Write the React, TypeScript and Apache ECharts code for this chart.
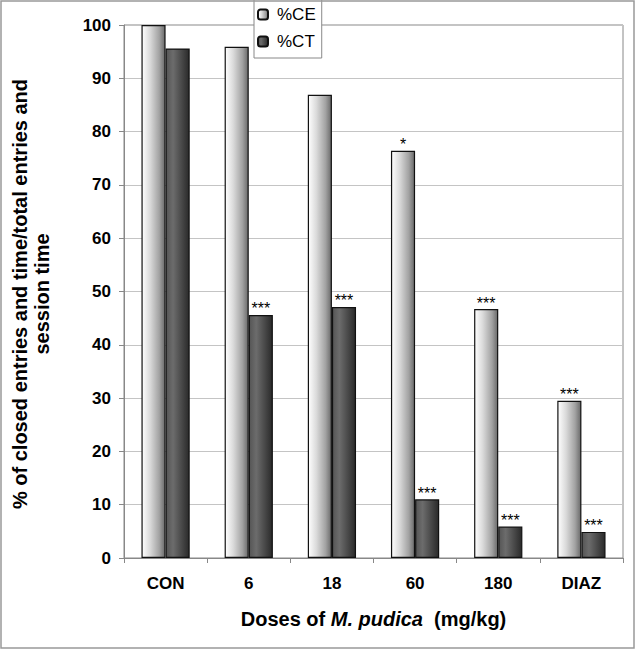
import React, { useEffect, useRef } from "react";
import * as echarts from "echarts";

const categories = ["CON", "6", "18", "60", "180", "DIAZ"];
const ceValues = [100, 95.9, 86.9, 76.4, 46.7, 29.5];
const ctValues = [95.6, 45.6, 47.1, 11.0, 5.9, 4.9];
const ceSig = ["", "", "", "*", "***", "***"];
const ctSig = ["", "***", "***", "***", "***", "***"];
const yTicks = { min: 0, max: 100, interval: 10 };

const FONT = "'Liberation Sans', Arial, sans-serif";

export default function App() {
  const ref = useRef<HTMLDivElement>(null);
  useEffect(() => {
    if (!ref.current) return;
    const chart = echarts.init(ref.current, null, { renderer: "svg" });
    const ceGrad = new echarts.graphic.LinearGradient(0, 0, 1, 0, [
      { offset: 0, color: "#ffffff" },
      { offset: 0.35, color: "#dadada" },
      { offset: 0.75, color: "#a2a2a2" },
      { offset: 1, color: "#6a6a6a" },
    ]);
    const ctGrad = new echarts.graphic.LinearGradient(0, 0, 1, 0, [
      { offset: 0, color: "#555555" },
      { offset: 0.3, color: "#6c6c6c" },
      { offset: 1, color: "#2a2a2a" },
    ]);
    const labelFor = (sig: string[]) => ({
      show: true,
      position: "top",
      distance: -2,
      formatter: (p: any) => sig[p.dataIndex],
      color: "#000",
      fontSize: 16,
      fontFamily: FONT,
    });
    chart.setOption({
      animation: false,
      backgroundColor: "#ffffff",
      textStyle: { fontFamily: FONT },
      grid: {
        left: 124,
        right: 13,
        top: 25,
        bottom: 92,
        show: true,
        borderColor: "#888888",
        borderWidth: 1,
      },
      legend: {
        orient: "vertical",
        left: 254,
        top: -4,
        itemWidth: 10,
        itemHeight: 10,
        itemGap: 10,
        padding: [10, 6, 8, 3],
        backgroundColor: "#ffffff",
        borderColor: "#888888",
        borderWidth: 1,
        z: 10,
        textStyle: { fontSize: 17, color: "#000", fontFamily: FONT, padding: [0, 0, 0, 4] },
        data: ["%CE", "%CT"],
      },
      graphic: [
        {
          type: "rect",
          shape: { x: 1, y: 1, width: 633, height: 647 },
          style: { fill: "none", stroke: "#999999", lineWidth: 1.5 },
          silent: true,
          z: 100,
        },
        {
          type: "text",
          x: 31,
          y: 294,
          rotation: Math.PI / 2,
          style: {
            text: "% of closed entries and time/total entries and\nsession time",
            align: "center",
            verticalAlign: "middle",
            font: `bold 20px ${FONT}`,
            lineHeight: 22,
            fill: "#000",
          },
        },
      ],
      xAxis: {
        type: "category",
        data: categories,
        axisLine: { lineStyle: { color: "#888888" } },
        axisTick: { show: true, length: 5, lineStyle: { color: "#888888" } },
        axisLabel: {
          color: "#000",
          fontSize: 17,
          fontWeight: "bold",
          fontFamily: FONT,
          margin: 17,
        },
        name: "{b|Doses of }{i|M. pudica}{b|  (mg/kg)}",
        nameLocation: "middle",
        nameGap: 51,
        nameTextStyle: {
          rich: {
            b: { fontSize: 20, fontWeight: "bold", color: "#000", fontFamily: FONT },
            i: { fontSize: 20, fontWeight: "bold", fontStyle: "italic", color: "#000", fontFamily: FONT },
          },
        },
      },
      yAxis: {
        type: "value",
        min: yTicks.min,
        max: yTicks.max,
        interval: yTicks.interval,
        axisLine: { show: true, lineStyle: { color: "#888888" } },
        axisTick: { show: true, length: 5, lineStyle: { color: "#888888" } },
        splitLine: { lineStyle: { color: "#c4c4c4" } },
        axisLabel: {
          color: "#000",
          fontSize: 17,
          fontWeight: "bold",
          fontFamily: FONT,
          margin: 13,
        },
      },
      series: [
        {
          name: "%CE",
          type: "bar",
          data: ceValues,
          barGap: "0%",
          barCategoryGap: "42%",
          itemStyle: { color: ceGrad, borderColor: "#111111", borderWidth: 1.2 },
          label: labelFor(ceSig),
        },
        {
          name: "%CT",
          type: "bar",
          data: ctValues,
          barGap: "0%",
          barCategoryGap: "42%",
          itemStyle: { color: ctGrad, borderColor: "#111111", borderWidth: 1.2 },
          label: labelFor(ctSig),
        },
      ],
    });
    return () => chart.dispose();
  }, []);
  return (
    <div
      ref={ref}
      style={{ position: "absolute", left: 0, top: 0, width: 636, height: 650 }}
    />
  );
}
